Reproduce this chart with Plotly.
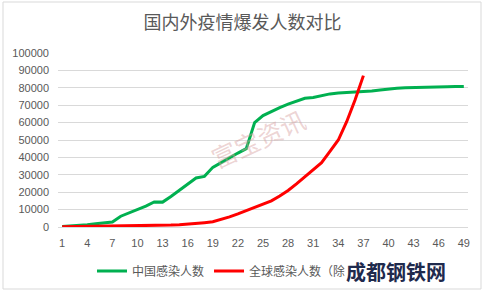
import plotly.graph_objects as go

days = list(range(1, 50))
x_ticks = list(range(1, 50, 3))

china = [300, 500, 800, 1300, 1900, 2500, 2900, 6200, 8000, 9900,
         12000, 14400, 14300, 17500, 21000, 24800, 28200, 29100, 34300, 37000,
         40000, 42500, 45000, 60000, 64000, 66500, 68600, 70600, 72400, 74000,
         74400, 75400, 76500, 77000, 77200, 77500, 77800, 78200, 78700, 79300,
         79800, 80000, 80200, 80300, 80400, 80500, 80600, 80700, 80800]

world = [100, 150, 200, 250, 300, 350, 400, 450, 500, 600,
         700, 800, 900, 1100, 1300, 1600, 2000, 2500, 3000, 4200,
         5800, 7500, 9300, 11000, 12800, 15000, 17800, 21000, 24800, 28800,
         33000, 37000, 43500, 50000, 60500, 73000, 87000]

title = "国内外疫情爆发人数对比"
name_china = "中国感染人数"
name_world = "全球感染人数（除中国）"

fig = go.Figure()
fig.add_trace(go.Scatter(x=days, y=china, mode="lines", name=name_china,
                         line=dict(color="#00B050", width=3)))
fig.add_trace(go.Scatter(x=days[:len(world)], y=world, mode="lines", name=name_world,
                         line=dict(color="#FF0000", width=3)))

grey = "#595959"
fig.update_layout(
    width=485, height=293,
    margin=dict(l=58, r=17, t=53, b=66, autoexpand=False),
    paper_bgcolor="white", plot_bgcolor="white",
    font=dict(family="Liberation Sans, Noto Sans CJK SC", size=11, color=grey),
    title=dict(text=title, x=0.5, xanchor="center", y=1 - 23 / 293, yanchor="middle",
               font=dict(family="Noto Sans CJK SC", size=18, color=grey)),
    showlegend=True,
    legend=dict(orientation="h", xref="container", x=92 / 485, xanchor="left",
                yref="container", y=1 - 271 / 293, yanchor="middle",
                font=dict(family="Noto Sans CJK SC", size=12, color=grey),
                itemwidth=30, bgcolor="rgba(0,0,0,0)"),
    xaxis=dict(range=[0.5, 49.5], tickmode="array", tickvals=x_ticks,
               showgrid=False, showline=True, linecolor="#d9d9d9", linewidth=1,
               ticks="", zeroline=False, ticklabelstandoff=6),
    yaxis=dict(range=[0, 100000], dtick=10000, showgrid=True, gridcolor="#d9d9d9",
               gridwidth=1, zeroline=False, showline=False, ticks="",
               tickformat="d", ticklabelstandoff=8),
)

# watermark text
fig.add_annotation(text="富宝资讯", xref="paper", yref="paper",
                   x=(258 - 58) / 410, y=(227 - 138) / 174,
                   xanchor="center", yanchor="middle",
                   showarrow=False, textangle=-25,
                   font=dict(family="Noto Sans CJK SC", size=25, color="rgba(215,160,160,0.45)"))
fig.add_annotation(text="<b>成都钢铁网</b>", x=(396 - 58) / 410, y=(227 - 271) / 174,
                   xref="paper", yref="paper", xanchor="center", yanchor="middle",
                   showarrow=False, bgcolor="white",
                   font=dict(family="Noto Sans CJK SC", size=20, color="#1f2a4d"))

# chart border
fig.add_shape(type="rect", xref="paper", yref="paper",
              x0=(3 - 58) / 410, x1=(481 - 58) / 410,
              y0=(227 - 289) / 174, y1=(227 - 2) / 174,
              line=dict(color="#d9d9d9", width=1), layer="below")

fig.write_html("out.html")
